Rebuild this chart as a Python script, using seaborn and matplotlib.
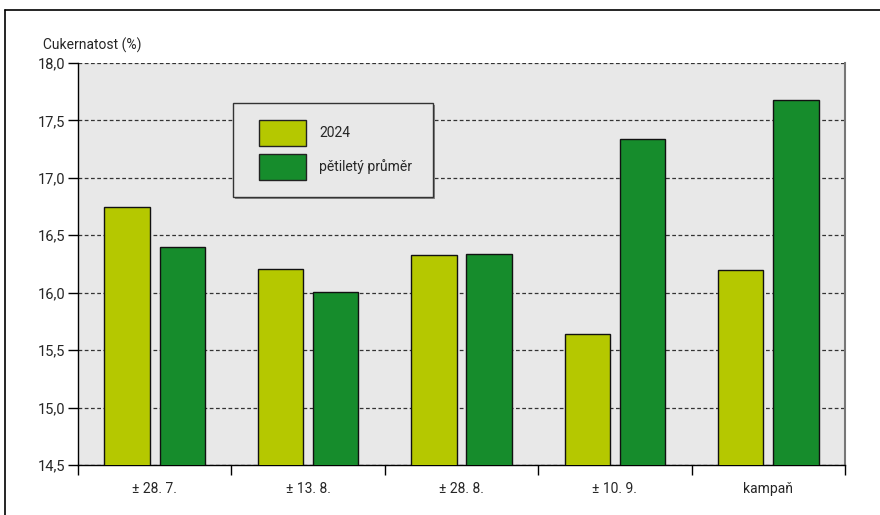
import pandas as pd
import numpy as np
import seaborn as sns
import matplotlib.pyplot as plt
from matplotlib.patches import Rectangle
from matplotlib.lines import Line2D
from matplotlib.ticker import FuncFormatter

# data
categories = ['± 28. 7.', '± 13. 8.', '± 28. 8.', '± 10. 9.', 'kampaň']
values_2024 = [16.75, 16.21, 16.33, 15.64, 16.20]
values_avg = [16.40, 16.01, 16.34, 17.34, 17.68]
series_names = ['2024', 'pětiletý průměr']
colors = ['#b5c800', '#168c2c']

df = pd.DataFrame({
    'kategorie': categories * 2,
    'hodnota': values_2024 + values_avg,
    'serie': [series_names[0]] * len(categories) + [series_names[1]] * len(categories),
})

sns.set_style('white')
plt.rcParams['font.family'] = ['Roboto', 'DejaVu Sans']

fig = plt.figure(figsize=(8.8, 5.15), dpi=100)
ax = fig.add_axes([78 / 880, 1 - 465 / 515, (845 - 78) / 880, (465 - 63) / 515])
ax.set_facecolor('#e8e8e8')

sns.barplot(data=df, x='kategorie', y='hodnota', hue='serie', palette=colors,
            saturation=1, width=0.72, gap=0.18, edgecolor='#111111', linewidth=1,
            ax=ax, legend=False, zorder=3)

ax.set_ylim(14.5, 18.0)
ax.set_xlim(-0.5, 4.5)
ax.set_yticks(np.arange(14.5, 18.01, 0.5))
ax.yaxis.set_major_formatter(FuncFormatter(lambda v, p: f'{v:.1f}'.replace('.', ',')))
ax.grid(axis='y', color='#333333', linestyle=(0, (3, 2)), linewidth=0.9)
ax.set_axisbelow(True)

ax.set_xticks(np.arange(-0.5, 5, 1), minor=True)
ax.tick_params(axis='both', which='both', bottom=True, left=True)
ax.tick_params(axis='x', which='major', length=0, labelsize=10, pad=12)
ax.tick_params(axis='x', which='minor', length=7, width=1, color='black', direction='out')
ax.tick_params(axis='y', length=7, width=1, color='black', direction='out', labelsize=10.5, pad=2)
ax.set_xlabel('')
ax.set_ylabel('')

for s in ['left', 'bottom']:
    ax.spines[s].set_color('black')
    ax.spines[s].set_linewidth(1)
ax.spines['top'].set_visible(False)
ax.spines['right'].set_color('#777777')
ax.spines['right'].set_linewidth(1.5)

fig.text(43 / 880, 1 - 50 / 515, 'Cukernatost (%)', fontsize=10, ha='left', va='baseline')

# legend box
fig.add_artist(Rectangle((235 / 880, 1 - 199 / 515), 200 / 880, 94 / 515,
                         transform=fig.transFigure, facecolor='#888888', edgecolor='none', zorder=4))
fig.add_artist(Rectangle((233 / 880, 1 - 197 / 515), 200 / 880, 94 / 515,
                         transform=fig.transFigure, facecolor='#e8e8e8', edgecolor='#333333',
                         linewidth=1, zorder=5))
handles = [Rectangle((0, 0), 1, 1, facecolor=c, edgecolor='#222222', linewidth=1) for c in colors]
leg = fig.legend(handles, series_names, loc='upper left',
                 bbox_to_anchor=(259 / 880, 1 - 120 / 515), bbox_transform=fig.transFigure,
                 frameon=False, borderpad=0, borderaxespad=0, fontsize=10,
                 handlelength=3.35, handleheight=2.5, labelspacing=0.55, handletextpad=1.0)
leg.set_zorder(6)

# outer frame
fig.add_artist(Line2D([5 / 880, 1.0], [1 - 10 / 515] * 2, transform=fig.transFigure,
                      color='black', linewidth=1.2))
fig.add_artist(Line2D([5 / 880] * 2, [0, 1 - 10 / 515], transform=fig.transFigure,
                      color='black', linewidth=1.2))

plt.savefig('out.png', dpi=100)
